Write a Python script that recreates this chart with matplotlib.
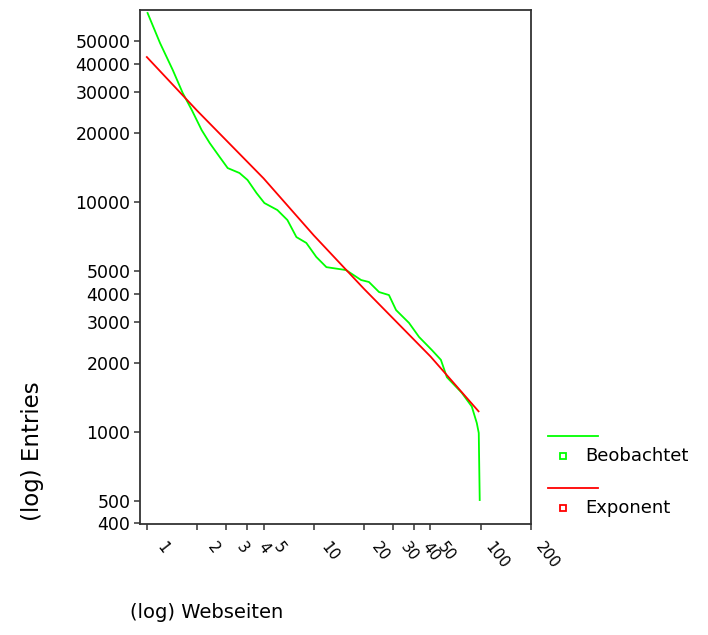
"""Log-log plot of entries per web page: observed vs. fitted power law."""

from matplotlib import pyplot as plt
from matplotlib import ticker
from matplotlib import transforms
from matplotlib.lines import Line2D

obs_pages = [1.01, 1.20, 1.43, 1.64, 1.86, 2.13, 2.38, 2.73, 3.05, 3.59,
             4.01, 4.54, 5.06, 6.05, 6.95, 7.87, 9.02, 10.35, 11.9, 15.6,
             19.2, 21.4, 24.6, 28.2, 31.1, 37.2, 42.7, 51.0, 57.7, 62.7,
             77.0, 88.4, 94.7, 97.3, 98.6]
obs_entries = [66400, 49100, 37500, 29800, 25100, 20550, 18050, 15700,
               14050, 13370, 12470, 10940, 9900, 9230, 8350, 7040, 6640,
               5770, 5210, 5060, 4580, 4490, 4060, 3940, 3390, 2980, 2590,
               2270, 2060, 1730, 1480, 1290, 1094, 990, 506]

# Fitted curve (Exponent)
fit_pages = [1, 2, 5, 10, 20, 50, 97]
fit_entries = [42700, 24970, 12680, 7160, 4190, 2130, 1230]

x_ticks = [1, 2, 3, 4, 5, 10, 20, 30, 40, 50, 100, 200]
y_ticks = [400, 500, 1000, 2000, 3000, 4000, 5000,
           10000, 20000, 30000, 40000, 50000]

legend_labels = ['Beobachtet', 'Exponent']

GREEN = '#00ff00'
RED = '#ff0000'


def main():
    plt.rcParams['font.family'] = ['DejaVu Sans']
    fig = plt.figure(figsize=(7.08, 6.35), dpi=100)
    ax = fig.add_axes([140 / 708, 1 - 524 / 635, 391 / 708, 514 / 635])

    ax.plot(obs_pages, obs_entries, color=GREEN, lw=1.3)
    ax.plot(fit_pages, fit_entries, color=RED, lw=1.3)

    ax.set_xscale('log')
    ax.set_yscale('log')
    ax.set_xlim(0.91, 200)
    ax.set_ylim(398, 68400)

    ax.xaxis.set_major_locator(ticker.FixedLocator(x_ticks))
    ax.xaxis.set_minor_locator(ticker.NullLocator())
    ax.set_xticklabels([str(t) for t in x_ticks])
    ax.yaxis.set_major_locator(ticker.FixedLocator(y_ticks))
    ax.yaxis.set_minor_locator(ticker.NullLocator())
    ax.set_yticklabels([str(t) for t in y_ticks])

    for spine in ax.spines.values():
        spine.set_linewidth(1.3)
        spine.set_color('#333333')
    ax.tick_params(axis='both', direction='out', length=4, width=1.1,
                   color='#333333')
    ax.tick_params(axis='y', labelsize=12.5, pad=3)
    ax.tick_params(axis='x', labelsize=11, pad=7)

    # Rotated x tick labels, shifted a little to the right of the tick
    offset = transforms.ScaledTranslation(16 / 100, 0, fig.dpi_scale_trans)
    for lab in ax.get_xticklabels():
        lab.set_rotation(-52)
        lab.set_ha('center')
        lab.set_va('top')
        lab.set_transform(lab.get_transform() + offset)

    # Axis titles
    fig.text(33 / 708, 1 - 451 / 635, '(log) Entries', rotation=90,
             ha='center', va='center', fontsize=16.5)
    fig.text(207 / 708, 1 - 612 / 635, '(log) Webseiten',
             ha='center', va='center', fontsize=14)

    # Legend drawn to the right of the plot
    colors = [GREEN, RED]
    line_y = [436, 488]
    text_y = [456, 508]
    for label, color, ly, ty in zip(legend_labels, colors, line_y, text_y):
        fig.add_artist(Line2D([548 / 708, 598 / 708],
                              [1 - ly / 635, 1 - ly / 635],
                              color=color, lw=1.3))
        fig.add_artist(Line2D([563 / 708], [1 - ty / 635], marker='s',
                              markersize=5, markerfacecolor='white',
                              markeredgecolor=color, markeredgewidth=1.3,
                              lw=0))
        fig.text(585 / 708, 1 - ty / 635, label, ha='left', va='center',
                 fontsize=13)

    fig.savefig('out.png', dpi=100)


if __name__ == "__main__":
    main()
